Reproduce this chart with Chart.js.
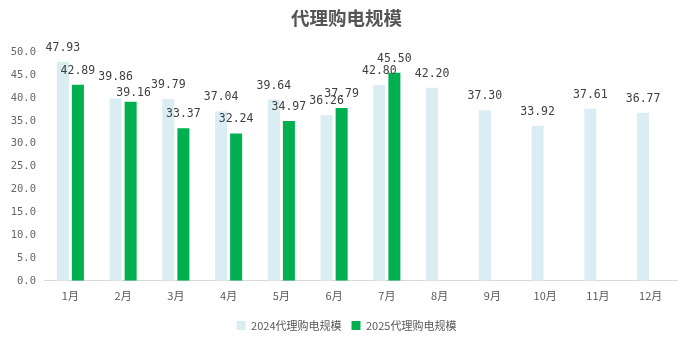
<!DOCTYPE html>
<html><head><meta charset="utf-8">
<script src="https://cdn.jsdelivr.net/npm/chart.js@4/dist/chart.umd.min.js"></script>
<style>html,body{margin:0;padding:0;background:#fff}#wrap{width:693px;height:342px}</style>
</head><body><div id="wrap"><canvas id="c" width="693" height="342"></canvas></div>
<script>
const categories = ['1月','2月','3月','4月','5月','6月','7月','8月','9月','10月','11月','12月'];
const series2024 = [47.93, 39.86, 39.79, 37.04, 39.64, 36.26, 42.80, 42.20, 37.30, 33.92, 37.61, 36.77];
const series2025 = [42.89, 39.16, 33.37, 32.24, 34.97, 37.79, 45.50];
const seriesNames = ['2024代理购电规模', '2025代理购电规模'];
const titleText = '代理购电规模';

// label nudges (dataset:index -> [dx, dy]) to avoid overlaps as in the original
const labelNudge = { '0:1': [0, -8], '1:1': [3, 5] };

const labelPlugin = {
  id: 'valLabels',
  afterDatasetsDraw(chart) {
    const ctx = chart.ctx;
    ctx.save();
    ctx.font = '11.5px "DejaVu Sans Mono", monospace';
    ctx.fillStyle = '#404040';
    ctx.textAlign = 'center';
    ctx.textBaseline = 'alphabetic';
    chart.data.datasets.forEach((ds, di) => {
      const meta = chart.getDatasetMeta(di);
      meta.data.forEach((bar, i) => {
        const v = ds.data[i];
        if (v == null) return;
        const n = labelNudge[di + ':' + i] || [0, 0];
        ctx.fillText(v.toFixed(2), bar.x + n[0], bar.y - 11 + n[1]);
      });
    });
    ctx.restore();
  }
};

new Chart(document.getElementById('c'), {
  type: 'bar',
  data: {
    labels: categories,
    datasets: [
      { label: seriesNames[0], data: series2024, backgroundColor: '#daedf3', categoryPercentage: 0.57, barPercentage: 0.8 },
      { label: seriesNames[1], data: series2025, backgroundColor: '#00b050', categoryPercentage: 0.57, barPercentage: 0.8 }
    ]
  },
  options: {
    responsive: false,
    animation: false,
    layout: { padding: { left: 0, right: 0, top: 0, bottom: 1 } },
    plugins: {
      title: { display: true, text: titleText, color: '#555555', font: { size: 18.5, weight: 'bold', family: '"Noto Sans CJK SC", sans-serif' }, padding: { top: 7, bottom: 23 } },
      legend: { position: 'bottom', labels: { boxWidth: 9, boxHeight: 9, color: '#595959', font: { size: 11, family: '"Noto Sans CJK SC", sans-serif' }, padding: 10 } },
      tooltip: { enabled: false }
    },
    scales: {
      x: {
        grid: { display: false, drawTicks: false },
        border: { display: true, color: '#d9d9d9' },
        ticks: { color: '#595959', font: { size: 11, family: '"Noto Sans CJK SC", sans-serif' }, padding: 8 }
      },
      y: {
        min: 0, max: 50,
        afterFit(s) { s.width = 44; },
        grid: { display: false, drawTicks: false },
        border: { display: false },
        ticks: { stepSize: 5, color: '#666', padding: 8, font: { size: 10.5, family: '"DejaVu Sans Mono", monospace' }, callback: v => v.toFixed(1) }
      },
      yRight: {
        position: 'right',
        min: 0, max: 50,
        afterFit(s) { s.width = 16; },
        grid: { display: false, drawTicks: false },
        border: { display: false },
        ticks: { display: false }
      }
    }
  },
  plugins: [labelPlugin]
});
</script></body></html>
